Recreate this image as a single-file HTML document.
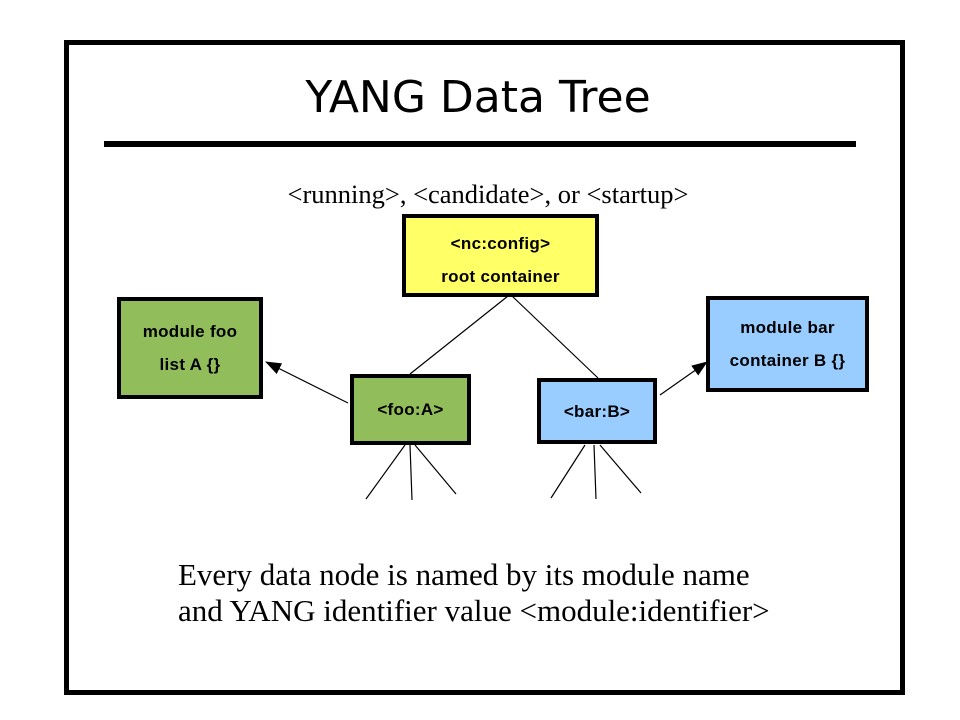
<!DOCTYPE html>
<html><head><style>
body{margin:0;width:960px;height:720px;background:#fff;position:relative;overflow:hidden;font-family:"Liberation Sans",sans-serif}
.box{position:absolute;box-sizing:border-box;border:4px solid #000;display:flex;flex-direction:column;align-items:center;justify-content:center;font-weight:bold;font-size:17px;line-height:33px;text-align:center;letter-spacing:0.3px}
</style></head><body>
<div style="position:absolute;left:64px;top:40px;width:841px;height:655px;box-sizing:border-box;border:5px solid #000"></div>
<div style="position:absolute;left:0;width:956px;top:70px;text-align:center;font-family:'DejaVu Sans',sans-serif;font-size:44px;line-height:56px">YANG Data Tree</div>
<div style="position:absolute;left:104px;top:141px;width:752px;height:6px;background:#000"></div>
<div style="position:absolute;left:0;width:976px;top:178px;text-align:center;font-family:'Liberation Serif',serif;font-size:26.5px;line-height:32px">&lt;running&gt;, &lt;candidate&gt;, or &lt;startup&gt;</div>
<svg width="960" height="720" style="position:absolute;left:0;top:0">
<defs><marker id="a" markerWidth="16" markerHeight="12" refX="15" refY="6" orient="auto" markerUnits="userSpaceOnUse"><path d="M0,0L16,6L0,12z"/></marker></defs>
<g stroke="#000" stroke-width="1.2">
<line x1="508" y1="296" x2="410" y2="374"/>
<line x1="512" y1="296" x2="598" y2="378"/>
<line x1="348" y1="403" x2="266" y2="362" marker-end="url(#a)"/>
<line x1="660" y1="395" x2="707" y2="362" marker-end="url(#a)"/>
<line x1="405" y1="445" x2="366" y2="499"/>
<line x1="410" y1="445" x2="412" y2="500"/>
<line x1="415" y1="445" x2="456" y2="494"/>
<line x1="585" y1="445" x2="551" y2="498"/>
<line x1="594" y1="445" x2="596" y2="499"/>
<line x1="600" y1="445" x2="641" y2="493"/>
</g></svg>
<div class="box" style="left:402px;top:214px;width:197px;height:83px;background:#ffff66;padding-top:8px"><div>&lt;nc:config&gt;</div><div>root container</div></div>
<div class="box" style="left:117px;top:297px;width:146px;height:102px;background:#92bd5b"><div>module foo</div><div>list A {}</div></div>
<div class="box" style="left:350px;top:374px;width:121px;height:71px;background:#92bd5b">&lt;foo:A&gt;</div>
<div class="box" style="left:537px;top:378px;width:120px;height:66px;background:#99ccff">&lt;bar:B&gt;</div>
<div class="box" style="left:706px;top:296px;width:163px;height:96px;background:#99ccff"><div>module bar</div><div>container B {}</div></div>
<div style="position:absolute;left:178px;top:557px;font-family:'Liberation Serif',serif;font-size:31px;line-height:36px;white-space:nowrap">Every data node is named by its module name<br>and YANG identifier value &lt;module:identifier&gt;</div>
</body></html>
